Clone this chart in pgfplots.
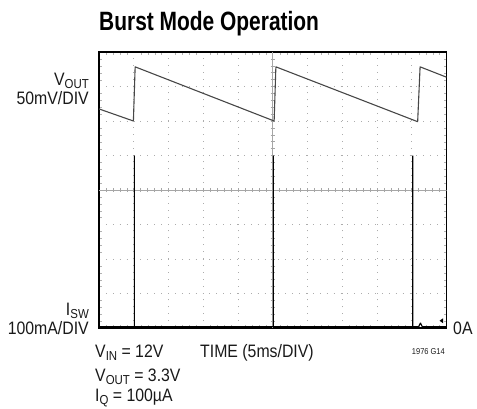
\documentclass[border=0pt]{standalone}
\usepackage{fontspec}
\setmainfont{Liberation Sans}[FakeStretch=0.88]
\newfontfamily\titlefont{Liberation Sans}[FakeStretch=0.79]
\usepackage{pgfplots}
\pgfplotsset{compat=1.18}
\newcommand\sub[1]{\raisebox{-2.8pt}{\fontsize{13pt}{14pt}\selectfont #1}}
\newcommand\lab{\fontsize{18pt}{20pt}\selectfont}
\begin{document}
\begin{tikzpicture}
\useasboundingbox (0pt,0pt) rectangle (477pt,409pt);
\begin{axis}[at={(99pt,81pt)},anchor=south west,scale only axis,width=347.5pt,height=276pt,
  xmin=0,xmax=10,ymin=0,ymax=8,xtick={0,...,10},ytick={0,...,8},xticklabels={},yticklabels={},
  major tick length=0pt,minor x tick num=4,minor y tick num=4,minor tick length=2.5pt,tick align=inside,
  minor tick style={gray!60},grid=major,major grid style={gray!65,line width=0.6pt,dash pattern=on 0.9pt off 6pt},
  axis line style={line width=1.4pt}]
% scope crosshair
\draw[gray!70,line width=0.6pt] (axis cs:5,0) -- (axis cs:5,8);
\draw[gray!70,line width=0.6pt] (axis cs:0,4) -- (axis cs:10,4);
\pgfplotsinvokeforeach{1,...,49}{\draw[gray!70,line width=0.6pt] (axis cs:{0.2*#1},3.94) -- (axis cs:{0.2*#1},4.06);}
\pgfplotsinvokeforeach{1,...,39}{\draw[gray!70,line width=0.6pt] (axis cs:4.94,{0.2*#1}) -- (axis cs:5.06,{0.2*#1});}
% VOUT
\addplot[black!72,line width=1.1pt,line join=round] coordinates {(0,6.35) (0.99,6.0) (1.04,7.57) (5.04,6.0) (5.09,7.57) (9.17,5.98) (9.24,7.57) (10,7.27)};
% ISW
\addplot[black,line width=1.1pt,line join=bevel] coordinates {(0,0.04) (1.02,0.04) (1.02,5.0) (1.02,0.04) (5.02,0.04) (5.02,5.0) (5.02,0.04) (9.03,0.04) (9.03,5.0) (9.03,0.04) (9.2,0.04) (9.25,0.15) (9.3,0.04) (10,0.04)};
\fill[black] (axis cs:9.9,0.14) -- (axis cs:9.8,0.21) -- (axis cs:9.9,0.28) -- cycle;
\end{axis}
\node[anchor=base west,inner sep=0,font=\titlefont\bfseries\fontsize{26.5pt}{30pt}\selectfont] at (99pt,378.3pt) {Burst Mode Operation};
\begin{scope}[every node/.style={inner sep=0,font=\lab,text=black!90}]
\node[anchor=base east] at (89pt,323.3pt) {V\sub{OUT}};
\node[anchor=base east] at (89pt,304pt) {50mV/DIV};
\node[anchor=base east] at (89pt,93pt) {I\sub{SW}};
\node[anchor=base east] at (89pt,74pt) {100mA/DIV};
\node[anchor=base west] at (453pt,74pt) {0A};
\node[anchor=base west] at (95pt,51pt) {V\sub{IN} = 12V};
\node[anchor=base west] at (95pt,27.3pt) {V\sub{OUT} = 3.3V};
\node[anchor=base west] at (95pt,7.3pt) {I\sub{Q} = 100µA};
\node[anchor=base west] at (200pt,51pt) {TIME (5ms/DIV)};
\node[anchor=base east,font=\fontsize{8.5pt}{9pt}\selectfont] at (445pt,54pt) {1976 G14};
\end{scope}
\end{tikzpicture}
\end{document}
